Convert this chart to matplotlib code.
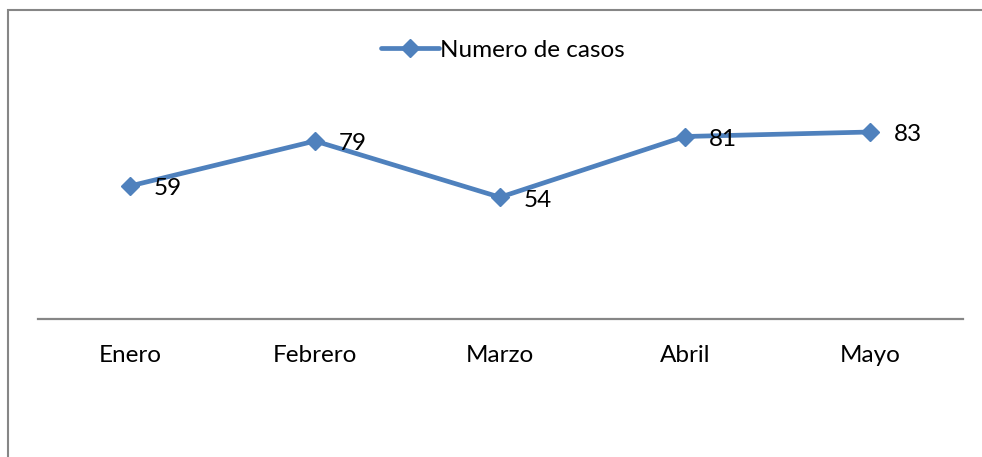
import matplotlib
matplotlib.use("Agg")
import matplotlib.pyplot as plt
from matplotlib.patches import Rectangle

categories = ["Enero", "Febrero", "Marzo", "Abril", "Mayo"]
values = [59, 79, 54, 81, 83]
series_name = "Numero de casos"

plt.rcParams['font.family'] = ['Lato', 'DejaVu Sans']

W, H = 982, 457
fig = plt.figure(figsize=(W / 100, H / 100), dpi=100)
fig.patch.set_facecolor("white")

# outer chart frame (right and bottom edges out of view)
fig.patches.append(Rectangle((7.8 / W, -0.1), 1.1, 1.1 - 10 / H,
                             transform=fig.transFigure, fill=False,
                             edgecolor="#868686", linewidth=1.5, zorder=0))

ax = fig.add_axes([37.5 / W, 1 - 318.75 / H, 925 / W, (318.75 - 93.75) / H])
x = list(range(len(categories)))
blue = "#4F81BD"
ax.plot(x, values, color=blue, linewidth=3.4, marker="D", markersize=9,
        markerfacecolor=blue, markeredgecolor=blue, label=series_name,
        solid_capstyle="round", solid_joinstyle="round")
for xi, v in zip(x, values):
    ax.annotate(str(v), (xi, v), xytext=(17, -2), textcoords="offset points",
                ha="left", va="center", fontsize=17.5, color="black")

ax.set_xlim(-0.5, len(categories) - 0.5)
ax.set_ylim(0, 100)
ax.set_xticks(x)
ax.set_xticklabels(categories, fontsize=17.5)
ax.tick_params(axis="x", length=0, pad=19)
ax.set_yticks([])
for s in ["top", "right", "left"]:
    ax.spines[s].set_visible(False)
ax.spines["bottom"].set_color("#868686")
ax.spines["bottom"].set_linewidth(1.6)
ax.patch.set_alpha(0)

leg = fig.legend(loc="center", bbox_to_anchor=(503 / W, 1 - 50 / H), frameon=False,
                 fontsize=17.5, handlelength=2.35, handletextpad=0.05)

fig.savefig("out.png", dpi=100)
